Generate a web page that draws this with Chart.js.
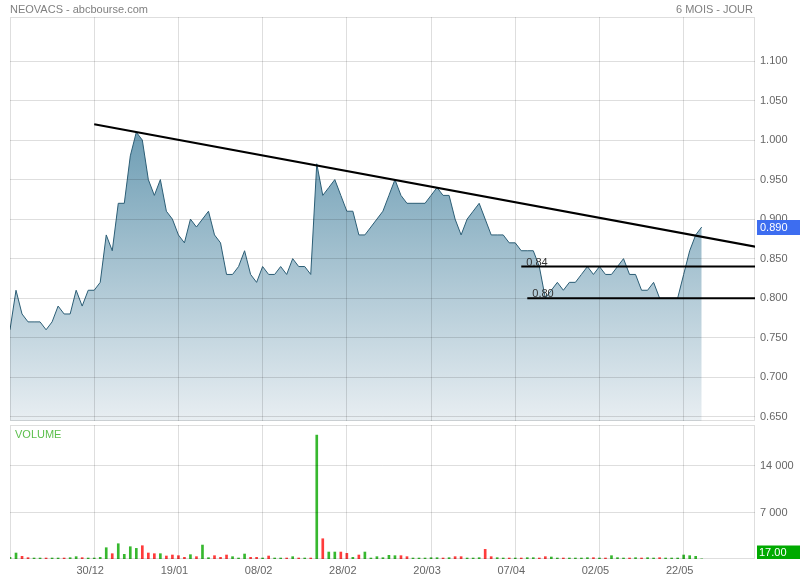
<!DOCTYPE html>
<html><head><meta charset="utf-8">
<script src="https://cdn.jsdelivr.net/npm/chart.js@4"></script>
<style>
html,body{margin:0;padding:0;background:#fff;}
#wrap{position:relative;width:800px;height:580px;overflow:hidden;font-family:"Liberation Sans",Arial,sans-serif;}
canvas{position:absolute;left:0;top:0;}
.t{position:absolute;font-size:11px;color:#808080;line-height:13px;white-space:nowrap;}
</style></head><body>
<div id="wrap">
<canvas id="price" width="800" height="580" style="width:800px;height:580px"></canvas>
<canvas id="vol" width="800" height="580" style="width:800px;height:580px"></canvas>
<div class="t" style="left:10px;top:3px">NEOVACS - abcbourse.com</div>
<div class="t" style="right:47px;top:3px">6 MOIS - JOUR</div>
</div>
<script>
// ---- data ----
const dates = ['30/12','19/01','08/02','28/02','20/03','07/04','02/05','22/05'];
const dateIdx = [14,28,42,56,70,84,98,112];
const prices = [
 0.76,0.81,0.78,0.77,0.77,0.77,0.76,0.77,0.79,0.78,
 0.78,0.81,0.79,0.81,0.81,0.82,0.88,0.86,0.92,0.92,
 0.98,1.01,1.00,0.95,0.93,0.95,0.91,0.90,0.88,0.87,
 0.90,0.89,0.90,0.91,0.88,0.87,0.83,0.83,0.84,0.86,
 0.83,0.82,0.84,0.83,0.83,0.84,0.83,0.85,0.84,0.84,
 0.83,0.97,0.93,0.94,0.95,0.93,0.91,0.91,0.88,0.88,
 0.89,0.90,0.91,0.93,0.95,0.93,0.92,0.92,0.92,0.92,
 0.93,0.94,0.93,0.93,0.90,0.88,0.90,0.91,0.92,0.90,
 0.88,0.88,0.88,0.87,0.87,0.86,0.86,0.86,0.84,0.80,
 0.81,0.82,0.81,0.82,0.82,0.83,0.84,0.83,0.84,0.83,
 0.83,0.84,0.85,0.83,0.83,0.81,0.81,0.82,0.80,0.80,
 0.80,0.80,0.83,0.86,0.88,0.89];
const volumes = [
 250,900,400,200,150,150,150,150,150,150,
 200,350,200,150,150,250,1700,800,2300,700,
 1850,1600,2000,900,800,800,450,600,500,250,
 650,350,2100,200,500,250,600,350,150,750,
 250,250,150,450,150,150,150,350,150,150,
 150,18650,3050,1050,1050,1050,850,250,600,1050,
 150,350,200,550,500,500,350,150,150,150,
 200,200,150,200,350,350,150,150,200,1450,
 350,200,150,150,150,150,200,200,150,350,
 300,150,150,150,150,150,200,200,150,150,
 500,200,150,150,200,150,200,150,200,150,
 150,150,600,500,400,17];
const priceTicks = [0.65,0.70,0.75,0.80,0.85,0.90,0.95,1.00,1.05,1.10];
const volumeTicks = [7000,14000];
const trendIdx = [14,124];
const trendVal = [1.02,0.865];
const supportLevels = [0.84,0.80];
const supportStart = [85,86];

// ---- helpers ----
const FONT = {family:'"Liberation Sans", Arial, sans-serif', size:11};
const GRID = 'rgba(0,0,0,0.13)';
const X_MIN = 0, X_MAX = 123.86;
const fmtVol = v => String(v).replace(/\B(?=(\d{3})+(?!\d))/g,' ');

const borderPlugin = {
  id:'panelBorder',
  afterDraw(chart){
    const {ctx, chartArea:a} = chart;
    ctx.save();
    ctx.strokeStyle = GRID; ctx.lineWidth = 1;
    ctx.strokeRect(Math.round(a.left)+0.5, Math.round(a.top)+0.5,
                   Math.round(a.right-a.left)-1, Math.round(a.bottom-a.top)-1);
    ctx.restore();
  }
};

const priceLabels = {
  id:'priceLabels',
  afterDraw(chart){
    const {ctx, scales:{x,y}} = chart;
    ctx.save();
    ctx.font = '11px "Liberation Sans", Arial, sans-serif';
    ctx.fillStyle = '#333';
    ctx.textBaseline = 'alphabetic';
    ctx.textAlign = 'left';
    supportLevels.forEach((lv,i)=>{
      ctx.fillText(lv.toFixed(2), x.getPixelForValue(supportStart[i])+5, y.getPixelForValue(lv)-1);
    });
    const last = prices[prices.length-1];
    const py = y.getPixelForValue(last);
    ctx.fillStyle = '#3d6df0';
    ctx.fillRect(757, Math.round(py-7.5), 43, 15);
    ctx.fillStyle = '#fff';
    ctx.textBaseline = 'middle';
    ctx.fillText(last.toFixed(3), 760, py+0.5);
    ctx.restore();
  }
};

const volLabels = {
  id:'volLabels',
  afterDraw(chart){
    const {ctx, scales:{y}, chartArea:a} = chart;
    ctx.save();
    ctx.font = '11px "Liberation Sans", Arial, sans-serif';
    ctx.fillStyle = '#5cbf4c';
    ctx.textBaseline = 'alphabetic';
    ctx.fillText('VOLUME', 15, 438);
    const last = volumes[volumes.length-1];
    let py = y.getPixelForValue(last);
    let top = Math.min(py-7, a.bottom-13.5);
    ctx.fillStyle = '#00aa00';
    ctx.fillRect(757, top, 43, 13.5);
    ctx.fillStyle = '#fff';
    ctx.textBaseline = 'middle';
    ctx.fillText(last.toFixed(2), 759, top+7);
    ctx.restore();
  }
};

// ---- price chart ----
const pctx = document.getElementById('price').getContext('2d');
new Chart(pctx, {
  type:'line',
  data:{
    datasets:[
      {data: trendIdx.map((v,i)=>({x:v,y:trendVal[i]})), borderColor:'#000', borderWidth:2, pointRadius:0, fill:false, order:0},
      ...supportLevels.map((lv,i)=>({data:[{x:supportStart[i],y:lv},{x:X_MAX+1,y:lv}], borderColor:'#000', borderWidth:2, pointRadius:0, fill:false, order:0})),
      {data: prices.map((p,i)=>({x:i,y:p})), borderColor:'#2b5d75', borderWidth:1, pointRadius:0, tension:0, order:1,
       fill:'start',
       backgroundColor:(c)=>{
         const ch = c.chart, a = ch.chartArea;
         if(!a) return 'rgba(120,165,185,0.8)';
         const g = ch.ctx.createLinearGradient(0,a.top,0,a.bottom);
         g.addColorStop(0,'rgb(62,126,156)');
         g.addColorStop(1,'rgb(232,238,242)');
         return g;
       }}
    ]
  },
  options:{
    responsive:false, animation:false, events:[],
    layout:{padding:{left:10,top:17,right:0,bottom:159}},
    plugins:{legend:{display:false}, tooltip:{enabled:false}},
    scales:{
      x:{type:'linear', min:X_MIN, max:X_MAX, offset:false,
         grid:{color:GRID, drawTicks:false, z:1, offset:false}, border:{display:false},
         ticks:{display:false},
         afterBuildTicks:s=>{s.ticks = dateIdx.map(v=>({value:v}));},
         afterFit:s=>{s.height = 0;}},
      y:{position:'right', min:0.6446, max:1.1557,
         grid:{color:GRID, drawTicks:false, z:1}, border:{display:false},
         ticks:{font:FONT, color:'#666', padding:5, callback:v=>Number(v).toFixed(3)},
         afterBuildTicks:s=>{s.ticks = priceTicks.map(v=>({value:v}));},
         afterFit:s=>{s.width = 45;}}
    }
  },
  plugins:[borderPlugin, priceLabels]
});

// ---- volume chart ----
const vctx = document.getElementById('vol').getContext('2d');
new Chart(vctx, {
  type:'bar',
  data:{
    datasets:[{
      data: volumes.map((v,i)=>({x:i,y:v})),
      backgroundColor: prices.map((p,i)=> (i===0 || p>=prices[i-1]) ? '#37b82f' : '#ff3b3b'),
      barThickness:2, borderWidth:0
    }]
  },
  options:{
    responsive:false, animation:false, events:[],
    layout:{padding:{left:10,top:425,right:0,bottom:0}},
    plugins:{legend:{display:false}, tooltip:{enabled:false}},
    scales:{
      x:{type:'linear', min:X_MIN, max:X_MAX, offset:false,
         grid:{color:GRID, drawTicks:false, z:1, offset:false}, border:{display:false},
         ticks:{font:FONT, color:'#666', padding:5, labelOffset:-4, maxRotation:0,
                callback:v=>{const k=dateIdx.indexOf(v); return k>=0?dates[k]:'';}},
         afterBuildTicks:s=>{s.ticks = dateIdx.map(v=>({value:v}));},
         afterFit:s=>{s.height = 21;}},
      y:{position:'right', min:0, max:20170,
         grid:{color:GRID, drawTicks:false, z:1}, border:{display:false},
         ticks:{font:FONT, color:'#666', padding:5, callback:v=>fmtVol(v)},
         afterBuildTicks:s=>{s.ticks = volumeTicks.map(v=>({value:v}));},
         afterFit:s=>{s.width = 45;}}
    }
  },
  plugins:[borderPlugin, volLabels]
});
</script>
</body></html>
